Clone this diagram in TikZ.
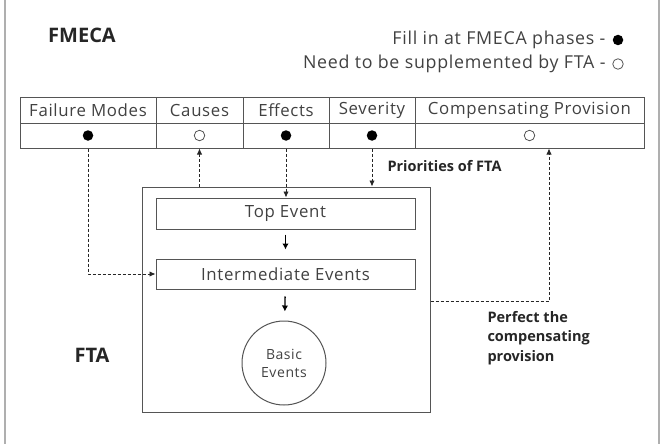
\documentclass[tikz,border=0pt]{standalone}
\usepackage{fontspec}
\setmainfont{Open Sans}
\newfontfamily\widefont{Open Sans}[LetterSpace=4]
\usetikzlibrary{arrows.meta}
\definecolor{framegray}{RGB}{175,175,175}
\definecolor{linegray}{RGB}{85,85,85}
\definecolor{textgray}{RGB}{65,65,65}

\begin{document}
\begin{tikzpicture}[x=1pt, y=-1pt,
	cell/.style={rectangle, draw=linegray, line width=1pt, minimum height=25pt, inner sep=0pt, text=textgray, font=\widefont\fontsize{16.8}{18}\selectfont},
	eventbox/.style={rectangle, draw=linegray, line width=1pt, minimum width=259pt, inner sep=0pt, text=textgray, font=\widefont\fontsize{16.8}{18}\selectfont},
	legendtext/.style={anchor=east, text=textgray, font=\widefont\fontsize{17.8}{18}\selectfont},
	fulldot/.style={circle, fill=black, minimum size=10.5pt, inner sep=0pt},
	emptydot/.style={circle, draw=linegray, line width=0.8pt, minimum size=10.5pt, inner sep=0pt},
	boldlabel/.style={text=black!85, font=\bfseries\fontsize{14.5}{19.5}\selectfont, align=left},
	dashline/.style={black!85, line width=0.9pt, dash pattern=on 3pt off 2pt, -{Latex[length=6pt,width=5.5pt]}},
	flow/.style={black, line width=1.3pt, -{Latex[length=6pt,width=6.5pt]}}]
	
	\useasboundingbox (0,0) rectangle (667,444);
	
	%Frame
	\draw[-, framegray, line width=2pt] (5,0) -- (5,444);
	\draw[-, framegray, line width=2pt] (659,0) -- (659,444);
	
	%Names
	\node (fmecaTitle) at (82,35) [text=black!85, font=\bfseries\fontsize{20}{24}\selectfont]{FMECA};
	\node (ftaTitle) at (92,355) [text=black!85, font=\bfseries\fontsize{20}{24}\selectfont]{FTA};
	
	%Legend
	\node (fillText) at (609,40) [legendtext]{Fill in at FMECA phases -};
	\node (fillDot) at (618,40) [fulldot]{};
	\node (needText) at (609,64) [legendtext]{Need to be supplemented by FTA -};
	\node (needDot) at (618,64) [emptydot]{};
	
	%Table header
	\node (fmHead) at (88,110.5) [cell, minimum width=136pt]{Failure Modes};
	\node (caHead) at (199.5,110.5) [cell, minimum width=87pt]{Causes};
	\node (efHead) at (286,110.5) [cell, minimum width=86pt]{Effects};
	\node (svHead) at (372,110.5) [cell, minimum width=86pt]{Severity};
	\node (cpHead) at (529.5,110.5) [cell, minimum width=229pt]{Compensating Provision};
	
	%Table marks
	\node (fmCell) at (88,135.5) [cell, minimum width=136pt]{};
	\node (caCell) at (199.5,135.5) [cell, minimum width=87pt]{};
	\node (efCell) at (286,135.5) [cell, minimum width=86pt]{};
	\node (svCell) at (372,135.5) [cell, minimum width=86pt]{};
	\node (cpCell) at (529.5,135.5) [cell, minimum width=229pt]{};
	\node (fmDot) at (fmCell) [fulldot]{};
	\node (caDot) at (caCell) [emptydot]{};
	\node (efDot) at (efCell) [fulldot]{};
	\node (svDot) at (svCell) [fulldot]{};
	\node (cpDot) at (cpCell) [emptydot]{};
	
	%FTA box
	\node (fta) at (286,299.5) [rectangle, draw=linegray, line width=1pt, minimum width=288pt, minimum height=225pt]{};
	\node (top) at (285.5,213.5) [eventbox, minimum height=31pt]{Top Event};
	\node (mid) at (285.5,274) [eventbox, minimum height=30pt]{Intermediate Events};
	\node (basic) at (284,363) [circle, draw=linegray, line width=1pt, minimum size=84pt, inner sep=0pt, align=center, text=textgray, font=\widefont\fontsize{14}{18}\selectfont]{Basic\\Events};
	
	%Tree arrows
	\draw[flow, shorten <=5pt, shorten >=9pt] (top) -- (mid);
	\draw[flow, shorten <=7pt, shorten >=9pt] (mid) -- (basic);
	
	%Dashed links
	\draw[dashline] (fmCell.south) |- (mid.west);
	\draw[dashline] (caCell.south |- fta.north) -- (caCell.south);
	\draw[dashline] (efCell.south) -- (efCell.south |- top.north);
	\draw[dashline] (svCell.south) -- (svCell.south |- fta.north);
	\coordinate (cpTurn) at (549,301);
	\draw[dashline] (fta.east |- cpTurn) -- (cpTurn) -- (cpTurn |- cpCell.south);
	
	%Link labels
	\node (prioLabel) at (384,166) [boldlabel, anchor=west]{Priorities of FTA};
	\node (perfLabel) at (484,338) [boldlabel, anchor=west]{Perfect the\\compensating\\provision};
	
\end{tikzpicture}
\end{document}
